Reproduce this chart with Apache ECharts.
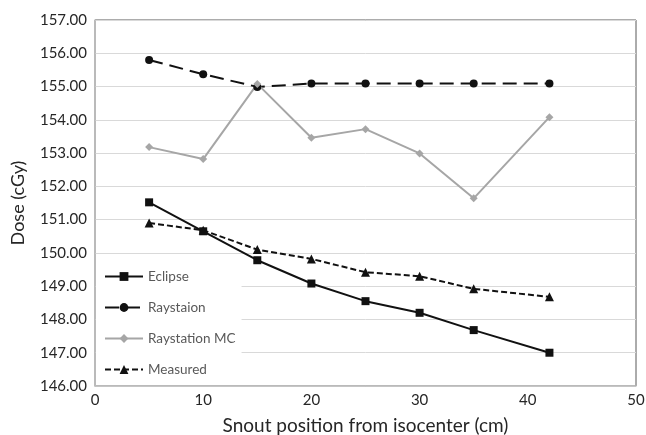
<!DOCTYPE html>
<html>
<head>
<meta charset="utf-8">
<script src="https://cdn.jsdelivr.net/npm/echarts@6/dist/echarts.min.js"></script>
<style>
html,body{margin:0;padding:0;background:#fff;}
#chart{width:646px;height:435px;}
</style>
</head>
<body>
<div id="chart"></div>
<script>
var snout = [5, 10, 15, 20, 25, 30, 35, 42];
var eclipse = [151.52, 150.65, 149.78, 149.08, 148.55, 148.20, 147.68, 147.00];
var raystaion = [155.80, 155.37, 154.99, 155.09, 155.09, 155.09, 155.09, 155.09];
var raystationMC = [153.18, 152.82, 155.08, 153.46, 153.72, 152.99, 151.64, 154.08];
var measured = [150.90, 150.68, 150.10, 149.82, 149.42, 149.30, 148.92, 148.68];
var seriesNames = ['Eclipse', 'Raystaion', 'Raystation MC', 'Measured'];

function pairs(ys) { return snout.map(function (x, i) { return [x, ys[i]]; }); }

var FONT = 'Lato';
var chart = echarts.init(document.getElementById('chart'), null, {renderer: 'canvas'});
chart.setOption({
  animation: false,
  backgroundColor: '#fff',
  grid: {left: 95, right: 10, top: 20, bottom: 49, containLabel: false, outerBoundsMode: 'none',
         show: true, borderColor: '#595959', borderWidth: 1, backgroundColor: 'transparent'},
  legend: {
    orient: 'vertical', left: 96, top: 262,
    padding: [7, 6, 8, 8],
    itemGap: 16, itemWidth: 38, itemHeight: 11,
    backgroundColor: '#fff',
    textStyle: {color: '#595959', fontSize: 13.5, fontFamily: FONT, lineHeight: 15},
    data: seriesNames
  },
  xAxis: {
    type: 'value', min: 0, max: 50, interval: 10,
    name: 'Snout position from isocenter (cm)', nameLocation: 'middle', nameGap: 30,
    nameTextStyle: {color: '#262626', fontSize: 19, fontFamily: FONT},
    axisLine: {show: true, lineStyle: {color: '#bfbfbf', width: 1.5}},
    axisTick: {show: false},
    splitLine: {show: false},
    axisLabel: {color: '#262626', fontSize: 15, fontFamily: FONT, margin: 7}
  },
  yAxis: {
    type: 'value', min: 146, max: 157, interval: 1,
    name: 'Dose (cGy)', nameLocation: 'middle', nameGap: 68, nameRotate: 90,
    nameTextStyle: {color: '#262626', fontSize: 18, fontFamily: FONT},
    axisLine: {show: true, lineStyle: {color: '#bfbfbf', width: 1.5}},
    axisTick: {show: false},
    splitLine: {show: true, lineStyle: {color: '#d9d9d9', width: 1}},
    axisLabel: {color: '#262626', fontSize: 15, fontFamily: FONT, margin: 8,
      formatter: function (v) { return v.toFixed(2); }}
  },
  series: [
    {name: seriesNames[0], type: 'line', data: pairs(eclipse), symbol: 'rect', symbolSize: 8,
     itemStyle: {color: '#111'}, lineStyle: {color: '#111', width: 2}},
    {name: seriesNames[1], type: 'line', data: pairs(raystaion), symbol: 'circle', symbolSize: 8,
     itemStyle: {color: '#111'}, lineStyle: {color: '#111', width: 2, type: [14, 7]}},
    {name: seriesNames[2], type: 'line', data: pairs(raystationMC), symbol: 'diamond', symbolSize: 8,
     itemStyle: {color: '#a6a6a6'}, lineStyle: {color: '#a6a6a6', width: 2}},
    {name: seriesNames[3], type: 'line', data: pairs(measured), symbol: 'triangle', symbolSize: 9,
     itemStyle: {color: '#111'}, lineStyle: {color: '#111', width: 2, type: [6, 3]}}
  ]
});
</script>
</body>
</html>
